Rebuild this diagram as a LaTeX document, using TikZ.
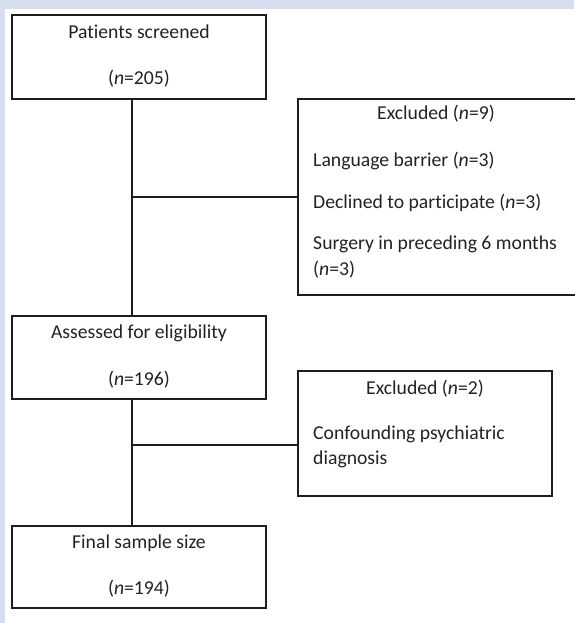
\documentclass[tikz,border=0pt]{standalone}
\usepackage{fontspec}
\setmainfont{Carlito}[Ligatures=NoCommon]
\usepackage{xcolor}
\usepackage{tikz}
\usetikzlibrary{calc}
\definecolor{bgblue}{HTML}{D6DEF0}
\definecolor{ink}{HTML}{1E1E1E}
\definecolor{txt}{HTML}{222222}
\tikzset{
  box/.style={draw=ink, line width=1pt, inner sep=0pt, rectangle},
  link/.style={draw=ink, line width=1pt},
  lab/.style={text=txt, font=\fontsize{16.8}{20}\selectfont, inner sep=0pt,
    text height=1.38ex, text depth=0pt},
  labl/.style={lab, anchor=west}
}
\newcommand{\nn}[1]{(\textit{n}=#1)}

\begin{document}
\begin{tikzpicture}[x=0.03cm, y=-0.03cm]
  \useasboundingbox (0,0) rectangle (574,623);
  \fill[bgblue] (0,0) rectangle (574,9);
  \fill[bgblue] (0,0) rectangle (5,623);

  \node[box, minimum width=7.62cm, minimum height=2.52cm] (screened) at (139,57) {};
  \node[box, minimum width=7.62cm, minimum height=2.49cm] (assessed) at (139,357.5) {};
  \node[box, minimum width=7.62cm, minimum height=2.46cm] (final) at (139,567) {};
  \node[box, minimum width=8.43cm, minimum height=5.88cm] (excl9) at (438.5,197) {};
  \node[box, minimum width=7.62cm, minimum height=3.75cm] (excl2) at (425,433.5) {};

  \node[lab] (t1) at (139,34.5) {Patients screened};
  \node[lab] (t2) at (139,81) {\nn{205}};
  \node[lab] (t3) at (139,335) {Assessed for eligibility};
  \node[lab] (t4) at (139,382) {\nn{196}};
  \node[lab] (t5) at (139,544.5) {Final sample size};
  \node[lab] (t6) at (139,591) {\nn{194}};

  \node[lab] (e9) at (436,116) {Excluded \nn{9}};
  \node[labl] (e9a) at (313,163) {Language barrier \nn{3}};
  \node[labl] (e9b) at (313,205) {Declined to participate \nn{3}};
  \node[labl] (e9c) at (313,246) {Surgery in preceding 6 months};
  \node[labl] (e9d) at (313,272) {\nn{3}};

  \node[lab] (e2) at (425,390.5) {Excluded \nn{2}};
  \node[labl] (e2a) at (313,436) {Confounding psychiatric};
  \node[labl] (e2b) at (313,461) {diagnosis};

  % spine sits a little left of the box centres
  \coordinate (s1) at ($(screened.south)+(-7,0)$);
  \coordinate (s2) at ($(assessed.south)+(-7,0)$);
  \coordinate (in2) at (excl2.west |- 0,445);

  \draw[link] (s1) -- (s1 |- assessed.north);
  \draw[link] (s1 |- excl9.west) -- (excl9.west);
  \draw[link] (s2) -- (s2 |- final.north);
  \draw[link] (s2 |- in2) -- (in2);
\end{tikzpicture}
\end{document}
